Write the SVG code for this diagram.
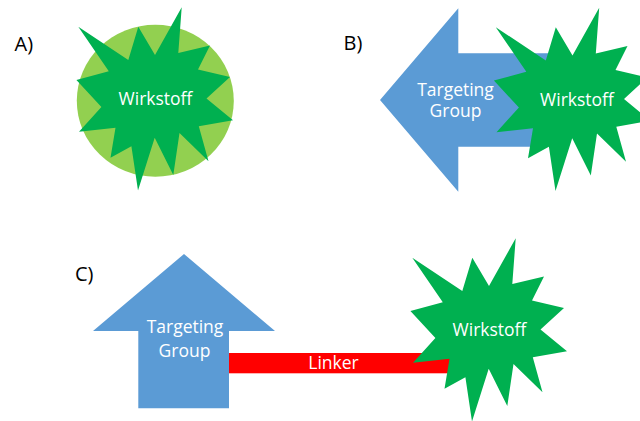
<svg xmlns="http://www.w3.org/2000/svg" xmlns:xlink="http://www.w3.org/1999/xlink" width="640" height="421" viewBox="0 0 640 421">
  <style>
    .lbl { font-family: "Open Sans", "Noto Sans", "Liberation Sans", sans-serif; font-size: 20px; fill: #000; }
    .t { font-family: "Open Sans", "Noto Sans", "Liberation Sans", sans-serif; font-size: 17.5px; fill: #fff; text-anchor: middle; }
    .star { fill: #00B050; }
    .blue { fill: #5B9BD5; }
  </style>
  <defs>
    <path id="star" d="M78.3,26.7 L128.3,60 L138.3,26.7 L155,55 L181.7,7.3 L178.3,53 L210,45.5 L198,69.5 L230,77 L206.5,98.5 L233,120.3 L198.8,126.2 L208.5,161.2 L179.5,133 L173.3,175 L154.7,137.8 L138,190.5 L131.4,146.2 L110.5,157.8 L115.5,127.8 L79,131.7 L101.4,107 L76.4,80 L108.8,71.2 Z"/>
  </defs>
  <rect width="640" height="421" fill="#fff"/>

  <g id="label-a"><text class="lbl" x="14.5" y="50.7">A)</text></g>
  <g id="label-b"><text class="lbl" x="343.5" y="50.2">B)</text></g>
  <g id="label-c"><text class="lbl" x="75" y="280.7">C)</text></g>

  <g id="a-carrier">
    <ellipse cx="155.3" cy="100.8" rx="78.5" ry="76" fill="#92D050"/>
  </g>
  <g id="a-wirkstoff">
    <use xlink:href="#star" href="#star" class="star"/>
    <text class="t" x="155.5" y="105.2">Wirkstoff</text>
  </g>

  <g id="b-targeting">
    <polygon class="blue" points="380,100 458.3,8.3 458.3,53.3 548,53.3 548,146.7 458.3,146.7 458.3,191.7"/>
    <text class="t" x="455.5" y="95.5">Targeting</text>
    <text class="t" x="455.5" y="117.2">Group</text>
  </g>
  <g id="b-wirkstoff">
    <use xlink:href="#star" href="#star" class="star" transform="translate(417.5,0.5)"/>
    <text class="t" x="577" y="106">Wirkstoff</text>
  </g>

  <g id="c-targeting">
    <polygon class="blue" points="184,254 275,331 229,331 229,408.3 138.3,408.3 138.3,331 93,331"/>
    <text class="t" x="185" y="333.3">Targeting</text>
    <text class="t" x="184.5" y="357.2">Group</text>
  </g>
  <g id="connectors">
    <rect x="229" y="353" width="231" height="20.3" fill="#FF0000"/>
    <text class="t" x="333.5" y="369.3">Linker</text>
  </g>
  <g id="c-wirkstoff">
    <use xlink:href="#star" href="#star" class="star" transform="translate(334,231)"/>
    <text class="t" x="489.5" y="336">Wirkstoff</text>
  </g>
</svg>
